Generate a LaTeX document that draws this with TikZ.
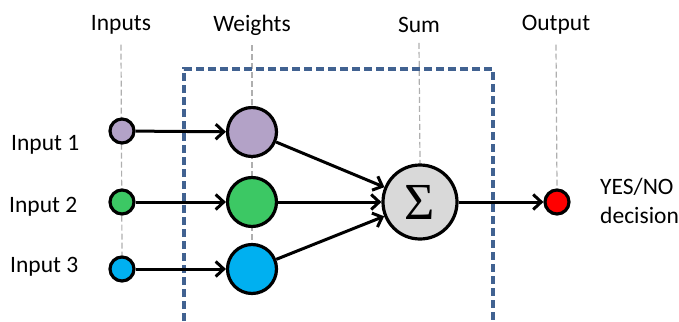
\documentclass[tikz,border=0pt]{standalone}
\usepackage{fontspec}
\setmainfont{Carlito}
\newfontfamily\sigmafont{Liberation Serif}
\usetikzlibrary{arrows.meta,backgrounds}
\definecolor{cpurple}{RGB}{179,162,199}
\definecolor{cgreen}{RGB}{60,200,100}
\definecolor{cblue}{RGB}{0,176,240}
\definecolor{cred}{RGB}{255,0,0}
\definecolor{cgray}{RGB}{217,217,217}
\definecolor{cbox}{RGB}{65,98,145}
\definecolor{cguide}{RGB}{175,175,175}
\begin{document}
\begin{tikzpicture}[x=1pt,y=-1pt,
  lbl/.style={font=\fontsize{23.5}{28}\selectfont, inner sep=0pt},
  unit/.style={circle, draw=black, line width=3.2pt, inner sep=0pt},
  small/.style={unit, minimum size=24pt},
  big/.style={unit, minimum size=49pt},
  guide/.style={draw=cguide, line width=1.2pt, dash pattern=on 6pt off 3pt},
  conn/.style={draw=black, line width=3pt, -{Straight Barb[length=8pt,width=15pt,line width=3pt]}}]
\useasboundingbox (0,0) rectangle (679,321);
% column labels
\node[lbl] (lin) at (121,25) {Inputs};
\node[lbl] (lw) at (252,25) {Weights};
\node[lbl] (ls) at (419,25) {Sum};
\node[lbl] (lo) at (556,25) {Output};
% dashed box
\draw[cbox, line width=3.4pt, dash pattern=on 8pt off 4pt] (184,321) -- (184,69) -- (493,69) -- (493,321);
% nodes
\node[small, fill=cpurple] (i1) at (122,131) {};
\node[small, fill=cgreen] (i2) at (122,202) {};
\node[small, fill=cblue] (i3) at (122,269) {};
\node[big, fill=cpurple] (w1) at (252,132) {};
\node[big, fill=cgreen] (w2) at (252,202) {};
\node[big, fill=cblue] (w3) at (252,269) {};
\node[unit, fill=cgray, minimum size=74pt, font=\sigmafont\fontsize{52}{52}\selectfont] (s) at (420,202) {Σ};
\node[small, fill=cred] (o) at (557,202) {};
% row labels
\node[lbl, anchor=west] (t1) at (11,145) {Input 1};
\node[lbl, anchor=west] (t2) at (9,207) {Input 2};
\node[lbl, anchor=west] (t3) at (10,267) {Input 3};
\node[lbl, anchor=west, align=left, font=\fontsize{23.5}{29}\selectfont] (yn) at (600,201) {YES/NO\\decision};
% guides
\begin{scope}[on background layer]
\draw[guide] ([yshift=-10pt]lin.south) -- (i3.north);
\draw[guide] ([yshift=-10pt]lw.south) -- (w3.north);
\draw[guide] ([yshift=-10pt]ls.south) -- (s.north);
\draw[guide] ([yshift=-10pt]lo.south) -- (o.north);
\end{scope}
% connectors
\draw[conn] (i1) -- (w1);
\draw[conn] (i2) -- (w2);
\draw[conn] (i3) -- (w3);
\draw[conn] (w1) -- (s);
\draw[conn] (w2) -- (s);
\draw[conn] (w3) -- (s);
\draw[conn] (s) -- (o);
\end{tikzpicture}
\end{document}
